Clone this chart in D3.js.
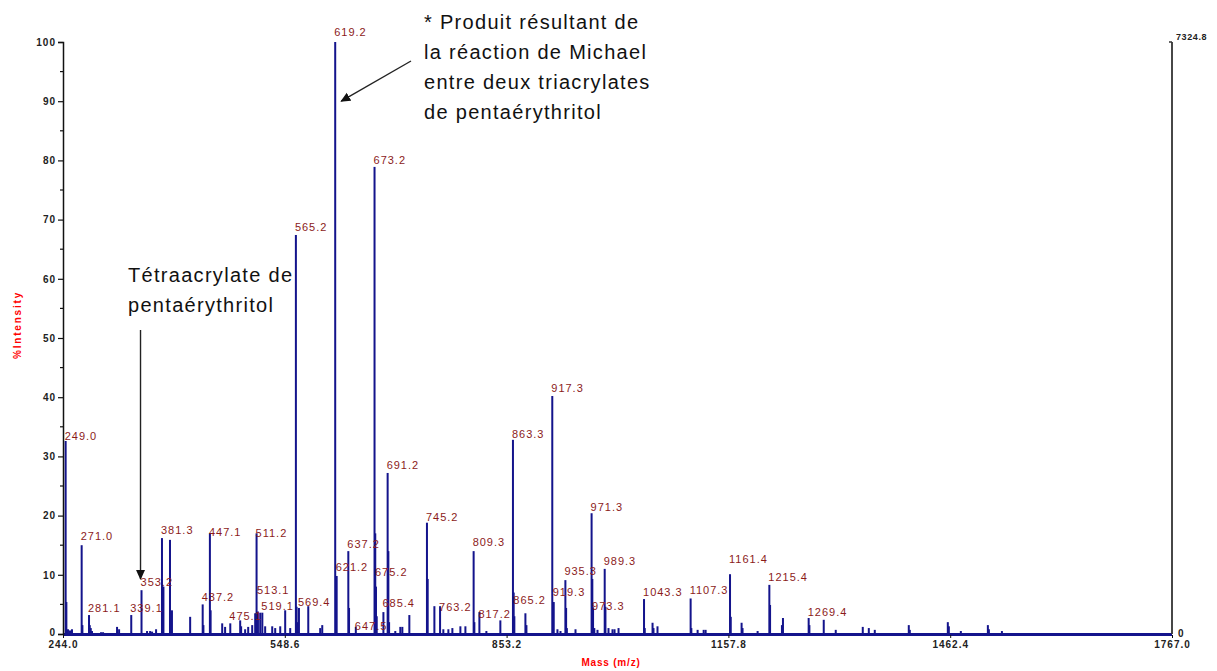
<!DOCTYPE html>
<html><head><meta charset="utf-8">
<script src="https://cdn.jsdelivr.net/npm/d3@7"></script>
<style>
html,body{margin:0;padding:0;background:#fff;}
svg{display:block;font-family:Arial,"Liberation Sans",sans-serif;}
</style></head><body>
<script>
// ---- data ----
const xTickValues = [244.0, 548.6, 853.2, 1157.8, 1462.4, 1767.0];
const yTickValues = [0,10,20,30,40,50,60,70,80,90,100];
const maxCounts = "7324.8";

// all peaks: m/z and % intensity
const peakMz = [249.0,250.0,252.2,255.0,257.7,271.0,272.0,281.1,282.1,283.5,285.2,297.6,300.4,319.6,322.4,
 339.1,353.2,360.8,365.0,367.7,373.2,381.3,382.3,383.3,392.3,395.0,420.0,437.2,438.2,447.1,448.1,464.0,468.0,
 475.1,488.7,490.0,495.5,499.7,505.2,509.3,511.2,513.1,516.2,519.1,523.0,532.7,536.8,543.7,550.5,557.4,
 565.2,566.2,567.2,569.4,582.2,598.6,601.4,619.2,621.2,637.2,638.2,647.5,673.2,674.2,675.2,676.2,685.4,
 691.2,692.2,693.2,701.7,708.6,711.4,721.0,745.2,746.2,755.4,763.2,767.7,774.6,780.1,791.1,798.0,
 809.3,810.3,817.2,826.8,846.0,863.3,864.3,865.2,880.4,881.8,917.3,919.3,924.4,928.6,935.3,936.3,937.3,949.2,
 971.3,972.3,973.3,975.0,979.4,989.3,990.3,994.5,1000.0,1002.8,1008.3,1043.3,1044.3,1055.0,1056.3,1061.8,
 1107.3,1108.3,1116.9,1125.2,1127.9,1161.4,1162.4,1177.3,1178.6,1199.3,1215.4,1216.4,1232.7,1234.1,
 1269.4,1270.4,1290.1,1306.6,1343.7,1352.0,1360.2,1406.9,1408.3,1460.5,1461.9,1478.4,1515.5,1516.9,1534.8];
const peakInt = [32.6,5.4,0.8,0.6,0.8,15.0,1.5,3.2,1.5,1.0,0.5,0.3,0.3,1.2,0.8,
 3.2,7.4,0.5,0.5,0.4,0.8,16.2,8.0,8.0,15.9,4.0,2.9,5.0,1.5,17.0,4.0,1.8,1.2,
 1.8,2.3,1.3,0.8,1.2,1.5,3.5,17.0,3.8,3.6,3.6,1.3,1.3,1.0,1.3,4.0,1.0,
 67.4,4.6,2.0,4.4,4.7,1.0,1.5,100,9.8,14.0,4.4,1.2,78.9,17.0,8.0,3.0,3.7,
 27.2,14.0,2.0,0.5,1.2,1.2,3.2,18.8,9.3,4.7,4.7,0.8,0.8,1.0,1.3,1.3,
 14.0,2.0,3.7,0.5,2.3,32.8,7.0,3.0,3.5,1.5,40.2,5.4,0.8,0.5,9.1,4.4,1.0,0.8,
 20.4,9.3,4.5,1.0,0.7,11.0,4.6,1.0,0.8,0.8,1.0,5.9,1.0,1.9,1.0,1.3,
 6.0,1.0,0.7,0.7,0.7,10.1,2.9,1.9,1.0,0.5,8.3,4.9,1.5,2.7,
 2.7,1.5,2.4,0.7,1.2,1.0,0.7,1.5,0.7,2.0,1.3,0.5,1.5,0.8,0.5];

// peak labels: text, m/z, and the intensity level at which the label sits
const labelText = ["249.0","271.0","281.1","339.1","353.2","381.3","437.2","447.1","475.1","511.2","513.1","519.1",
 "565.2","569.4","619.2","621.2","637.2","647.5","673.2","675.2","685.4","691.2","745.2","763.2","809.3","817.2",
 "863.3","865.2","917.3","919.3","935.3","971.3","973.3","989.3","1043.3","1107.3","1161.4","1215.4","1269.4"];
const labelMz = [249.0,271.0,281.1,339.1,353.2,381.3,437.2,447.1,475.1,511.2,513.1,519.1,
 565.2,569.4,619.2,621.2,637.2,647.5,673.2,675.2,685.4,691.2,745.2,763.2,809.3,817.2,
 863.3,865.2,917.3,919.3,935.3,971.3,973.3,989.3,1043.3,1107.3,1161.4,1215.4,1269.4];
const labelLevel = [32.6,15.7,3.5,3.5,7.9,16.7,5.4,16.4,2.2,16.2,6.6,3.9,
 67.9,4.5,100.8,10.5,14.4,0.5,79.2,9.6,4.4,27.7,19.0,3.7,14.7,2.5,
 33.0,4.9,40.7,6.2,9.8,20.6,3.9,11.5,6.2,6.6,11.8,8.8,2.9];

const noteMichael = ["* Produit résultant de","la réaction de Michael","entre deux triacrylates","de pentaérythritol"];
const noteTetra = ["Tétraacrylate de","pentaérythritol"];

// ---- drawing ----
const W = 1217, H = 671;
const svg = d3.select("body").append("svg").attr("width", W).attr("height", H);
const x = d3.scaleLinear().domain([244, 1767]).range([62, 1171]);
const y = d3.scaleLinear().domain([0, 100]).range([634, 42]);
const bar = "#14148c", lab = "#8b1a1a";
const axisX0 = 63, axisX1 = 1172;

// bars
svg.append("g").selectAll("rect").data(peakMz.map((m,i)=>({m, v:peakInt[i]}))).join("rect")
  .attr("x", d => x(d.m) - 1).attr("width", 2)
  .attr("y", d => y(d.v)).attr("height", d => y(0) - y(d.v))
  .attr("fill", bar);

// baseline
svg.append("line").attr("x1", axisX0).attr("x2", axisX1).attr("y1", y(0)+0.5).attr("y2", y(0)+0.5)
  .attr("stroke", bar).attr("stroke-width", 3);

// left axis
const yAxis = d3.axisLeft(y).tickValues(yTickValues).tickSize(5).tickFormat(d3.format("d"));
const gy = svg.append("g").attr("transform", `translate(${axisX0},0)`).call(yAxis);
gy.select(".domain").attr("stroke", "#111").attr("stroke-width", 1.5);
gy.selectAll(".tick line").attr("stroke", "#111").attr("stroke-width", 1.2);
gy.selectAll(".tick text").attr("font-size", 10).attr("font-weight", "bold").attr("fill", "#222")
  .attr("letter-spacing", "1px").attr("x", -7);
gy.selectAll(".tick").filter(d => d === 0).select("text").attr("dy", "0.1em");
const minor = d3.range(5, 100, 10);
svg.append("g").selectAll("line").data(minor).join("line")
  .attr("x1", axisX0-3).attr("x2", axisX0).attr("y1", d=>y(d)).attr("y2", d=>y(d))
  .attr("stroke", "#111").attr("stroke-width", 1.2);

// x axis labels & ticks
const xAxis = d3.axisBottom(d3.scaleLinear().domain([244,1767]).range([axisX0, axisX1]))
  .tickValues(xTickValues).tickSize(3).tickFormat(d3.format(".1f"));
const gx = svg.append("g").attr("transform", `translate(0,${y(0)+1})`).call(xAxis);
gx.select(".domain").remove();
gx.selectAll(".tick line").attr("stroke", "#111");
gx.selectAll(".tick text").attr("font-size", 10).attr("font-weight", "bold").attr("fill", "#222")
  .attr("letter-spacing", "1px").attr("y", 6);

// right axis
svg.append("line").attr("x1", axisX1).attr("x2", axisX1).attr("y1", y(100)).attr("y2", y(0))
  .attr("stroke", "#333").attr("stroke-width", 1.8);
svg.append("line").attr("x1", axisX1-3).attr("x2", axisX1).attr("y1", y(100)).attr("y2", y(100))
  .attr("stroke", "#333").attr("stroke-width", 1.5);
svg.append("text").attr("x", axisX1+4).attr("y", y(100)-2).text(maxCounts)
  .attr("font-size", 9).attr("font-weight", "bold").attr("fill", "#222").attr("letter-spacing", "0.6px");
svg.append("text").attr("x", axisX1+6).attr("y", y(0)+3).text("0")
  .attr("font-size", 10).attr("font-weight", "bold").attr("fill", "#222");

// axis titles
svg.append("text").attr("x", 611).attr("y", 666).attr("text-anchor", "middle")
  .attr("font-size", 10).attr("font-weight", "bold").attr("fill", "#ff0000").attr("letter-spacing", "0.8px")
  .text("Mass (m/z)");
svg.append("text").attr("transform", "translate(21,325) rotate(-90)").attr("text-anchor", "middle")
  .attr("font-size", 10).attr("font-weight", "bold").attr("fill", "#ff0000").attr("letter-spacing", "1.8px")
  .text("%Intensity");

// peak labels
svg.append("g").selectAll("text").data(labelText.map((t,i)=>({t, m:labelMz[i], l:labelLevel[i]}))).join("text")
  .attr("x", d => x(d.m) - 1).attr("y", d => y(d.l) - 1)
  .attr("font-size", 11).attr("letter-spacing", "1px").attr("fill", lab)
  .text(d => d.t);

// annotations
const defs = svg.append("defs");
defs.append("marker").attr("id", "ah").attr("viewBox", "0 0 10 10").attr("refX", 9).attr("refY", 5)
  .attr("markerWidth", 10).attr("markerHeight", 10).attr("markerUnits", "userSpaceOnUse")
  .attr("orient", "auto-start-reverse")
  .append("path").attr("d", "M0,0.5 L10,5 L0,9.5 Z").attr("fill", "#111");

const tm = svg.append("g").attr("font-size", 20).attr("fill", "#111").attr("letter-spacing", "1.3px");
noteMichael.forEach((s,i)=> tm.append("text").attr("x", 424).attr("y", 29 + i*30).text(s));
svg.append("line").attr("x1", 411).attr("y1", 61).attr("x2", x(619.2)+6).attr("y2", y(90))
  .attr("stroke", "#222").attr("stroke-width", 1.4).attr("marker-end", "url(#ah)");

const tt = svg.append("g").attr("font-size", 20).attr("fill", "#111").attr("letter-spacing", "1.3px");
noteTetra.forEach((s,i)=> tt.append("text").attr("x", 128).attr("y", 282 + i*30).text(s));
svg.append("line").attr("x1", x(353.2)-1).attr("y1", 330).attr("x2", x(353.2)-1).attr("y2", y(9.3))
  .attr("stroke", "#222").attr("stroke-width", 1.4).attr("marker-end", "url(#ah)");
</script>
</body></html>
